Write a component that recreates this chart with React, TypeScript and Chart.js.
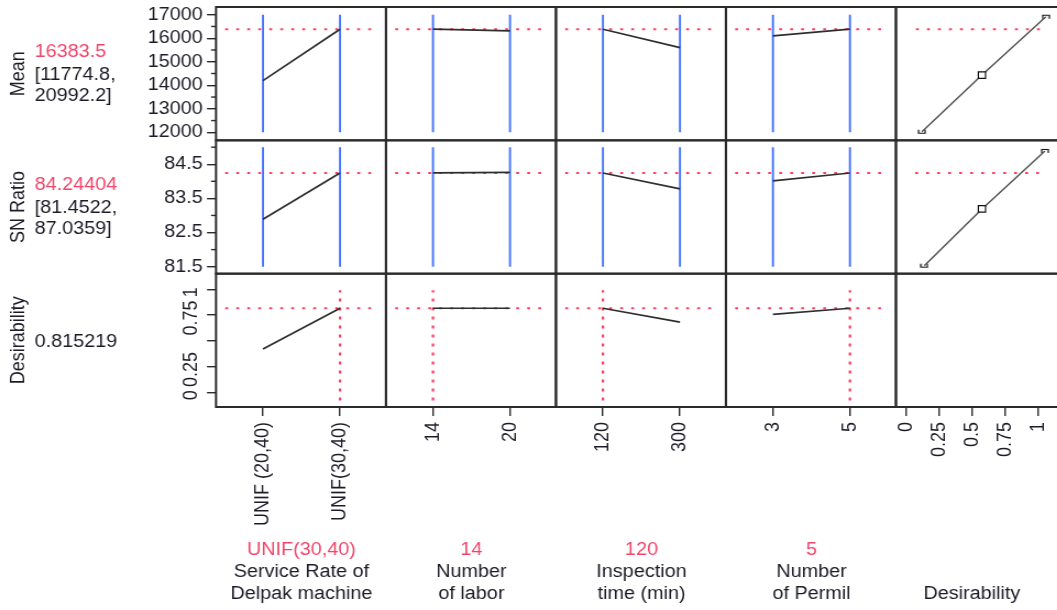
import React, { useEffect, useRef } from 'react';
import { Chart, registerables } from 'chart.js';

Chart.register(...registerables);

const FONT = "'Liberation Sans', Arial, Helvetica, sans-serif";
const TEXT = '#1c1c28';
const RED = '#ff3d5e';
const RED_TEXT = '#f2456a';
const BLUE = '#4474ff';
const LINE = '#2e2e2e';
const FRAME = '#2b2b2b';
const SX = 1.1; // horizontal stretch of the reference picture
const CW = 971;
const CH = 610;

// ---- factors (x axes) ----
const serviceLevels = ['UNIF (20,40)', 'UNIF(30,40)'];
const laborLevels = [14, 20];
const inspectionLevels = [120, 300];
const permilLevels = [3, 5];
const desirabilityTicks = [0, 0.25, 0.5, 0.75, 1];
const desirabilityTickLabels = ['0', '0.25', '', '0.75', '1'];

const factorTitles = [
  ['Service Rate of', 'Delpak machine'],
  ['Number', 'of labor'],
  ['Inspection', 'time (min)'],
  ['Number', 'of Permil'],
  ['Desirability'],
];
const factorCurrentText = ['UNIF(30,40)', '14', '120', '5', ''];
const currentLevelIndex = [1, 0, 0, 1];

// ---- responses (y axes) ----
const responseNames = ['Mean', 'SN Ratio', 'Desirability'];
const currentMean = 16383.5;
const meanCI = [11774.8, 20992.2];
const currentSN = 84.24404;
const snCI = [81.4522, 87.0359];
const currentDesirability = 0.815219;

const meanTicks = [12000, 13000, 14000, 15000, 16000, 17000];
const meanMinorTicks = [12500, 13500, 14500, 15500, 16500];
const snTicks = [81.5, 82.5, 83.5, 84.5];
const snMinorTicks = [82, 83, 84, 85];

// confidence bars, clipped to the shown tick range
const meanBarRange = [12000, 17000];
const snBarRange = [81.5, 85];

// ---- profile traces (value at each factor level) ----
const meanService = [14200, 16383.5];
const meanLabor = [16383.5, 16315];
const meanInspection = [16383.5, 15600];
const meanPermil = [16100, 16383.5];

const snService = [82.89, 84.24404];
const snLabor = [84.24404, 84.26];
const snInspection = [84.24404, 83.78];
const snPermil = [84.01, 84.24404];

const desService = [0.42, 0.815219];
const desLabor = [0.815219, 0.815219];
const desInspection = [0.815219, 0.68];
const desPermil = [0.755, 0.815219];

// ---- desirability functions ----
const meanDesX = [0.121, 0.576, 1.06];
const meanDesY = [12025, 14434, 16915];
const snDesX = [0.139, 0.576, 1.053];
const snDesY = [81.53, 83.19, 84.89];

const xIds = ['xService', 'xLabor', 'xInspection', 'xPermil', 'xDes'];
const yIds = ['yMean', 'ySN', 'yDes'];

const factorX: number[][] = [serviceLevels.map((_, i) => i), laborLevels, inspectionLevels, permilLevels];
const meanTraces = [meanService, meanLabor, meanInspection, meanPermil];
const snTraces = [snService, snLabor, snInspection, snPermil];
const desTraces = [desService, desLabor, desInspection, desPermil];

function makeBracket(up: boolean) {
  const c = document.createElement('canvas');
  c.width = 8;
  c.height = 6;
  const g = c.getContext('2d')!;
  g.strokeStyle = '#111';
  g.lineWidth = 1.2;
  g.beginPath();
  if (up) {
    g.moveTo(1, 5); g.lineTo(1, 1.5); g.lineTo(7, 1.5); g.lineTo(7, 5);
  } else {
    g.moveTo(1, 1); g.lineTo(1, 4.5); g.lineTo(7, 4.5); g.lineTo(7, 1);
  }
  g.stroke();
  return c;
}

function line(xAxisID: string, yAxisID: string, data: { x: number; y: number }[], extra: any) {
  return {
    type: 'line',
    xAxisID,
    yAxisID,
    data,
    pointRadius: 0,
    fill: false,
    tension: 0,
    ...extra,
  };
}

const hDot = { borderColor: RED, borderDash: [2.6, 7.4], borderWidth: 2, order: 3 };
const vDot = { borderColor: RED, borderDash: [3, 6], borderWidth: 2.2, order: 3 };

function buildDatasets() {
  const out: any[] = [];
  const rows = [
    { y: 'yMean', traces: meanTraces, current: currentMean, bar: meanBarRange },
    { y: 'ySN', traces: snTraces, current: currentSN, bar: snBarRange },
    { y: 'yDes', traces: desTraces, current: currentDesirability, bar: null as number[] | null },
  ];
  factorX.forEach((xs, c) => {
    const xId = xIds[c];
    const lo = xs[0];
    const hi = xs[xs.length - 1];
    const span = hi - lo;
    const cur = xs[currentLevelIndex[c]];
    rows.forEach((r) => {
      out.push(line(xId, r.y, [{ x: lo - 0.49 * span, y: r.current }, { x: hi + 0.41 * span, y: r.current }], hDot));
      if (r.bar) {
        xs.forEach((xv) =>
          out.push(
            line(xId, r.y, [{ x: xv, y: r.bar![0] }, { x: xv, y: r.bar![1] }], {
              borderColor: BLUE, borderWidth: 1.9, order: 2,
            })
          )
        );
      } else {
        out.push(line(xId, r.y, [{ x: cur, y: -0.08 }, { x: cur, y: 0.99 }], vDot));
      }
      out.push(
        line(xId, r.y, xs.map((xv, i) => ({ x: xv, y: r.traces[c][i] })), {
          borderColor: LINE, borderWidth: 1.7, order: 1,
        })
      );
    });
  });
  const up = makeBracket(true);
  const down = makeBracket(false);
  out.push(line('xDes', 'yMean', [{ x: 0.076, y: currentMean }, { x: 1.038, y: currentMean }], hDot));
  out.push(line('xDes', 'ySN', [{ x: 0.07, y: currentSN }, { x: 1.03, y: currentSN }], hDot));
  const fnStyle = {
    borderColor: '#555', borderWidth: 1.5, order: 1,
    pointStyle: [down, 'rect', up], pointRadius: [4, 4.6, 4],
    pointBackgroundColor: '#fff', pointBorderColor: '#111', pointBorderWidth: 1.2,
  };
  out.push(line('xDes', 'yMean', meanDesX.map((x, i) => ({ x, y: meanDesY[i] })), fnStyle));
  out.push(line('xDes', 'ySN', snDesX.map((x, i) => ({ x, y: snDesY[i] })), fnStyle));
  return out;
}

function padRange(lo: number, hi: number) {
  const s = hi - lo;
  return [lo - 0.61 * s, hi + 0.597 * s];
}

const tickFont = { family: FONT, size: 18 };
const gridOpts = (len: number) => ({
  display: true, drawOnChartArea: false, drawTicks: true, tickLength: len,
  color: FRAME, lineWidth: 1.4,
});

function noPad(axis: any) {
  axis.paddingLeft = 0;
  axis.paddingRight = 0;
  axis.paddingTop = 0;
  axis.paddingBottom = 0;
}

function buildScales() {
  const scales: any = {};
  const xTicks = [...factorX, desirabilityTicks];
  const xRanges = [
    ...factorX.map((xs) => padRange(xs[0], xs[xs.length - 1])),
    [-0.0758, 1.212],
  ];
  xIds.forEach((id, i) => {
    scales[id] = {
      type: 'linear', position: 'bottom', stack: 'cols', stackWeight: 1, weight: i,
      min: xRanges[i][0], max: xRanges[i][1], bounds: 'data',
      afterBuildTicks: (axis: any) => { axis.ticks = xTicks[i].map((v) => ({ value: v })); },
      afterFit: (axis: any) => { axis.height = 203; noPad(axis); },
      grid: gridOpts(9),
      border: { display: false },
      ticks: {
        autoSkip: false, minRotation: 90, maxRotation: 90, padding: 6,
        font: tickFont, color: TEXT,
        callback: (v: number, idx: number) => (i === 0 ? serviceLevels[idx] : String(v)),
      },
    };
  });
  const yTicks = [meanTicks, snTicks, desirabilityTicks];
  const yRanges = [[11660, 17327], [81.295, 85.2], [-0.143, 1.151]];
  yIds.forEach((id, j) => {
    scales[id] = {
      type: 'linear', position: 'left', stack: 'rows', stackWeight: 1, weight: 3 - j,
      min: yRanges[j][0], max: yRanges[j][1], bounds: 'data',
      afterBuildTicks: (axis: any) => { axis.ticks = yTicks[j].map((v) => ({ value: v })); },
      afterFit: (axis: any) => { axis.width = 66.36; noPad(axis); },
      grid: gridOpts(8.2),
      border: { display: false },
      ticks: {
        autoSkip: false, padding: 3.9, font: tickFont, color: TEXT,
        callback: (v: number) => (j === 2 ? '' : String(v)),
      },
    };
  });
  return scales;
}

const profilerPlugin = {
  id: 'profilerDecor',
  afterDatasetsDraw(chart: any) {
    const { ctx, scales } = chart;
    ctx.save();
    ctx.strokeStyle = FRAME;
    ctx.lineWidth = 2;
    xIds.forEach((xi) => {
      yIds.forEach((yi) => {
        const xs = scales[xi];
        const ys = scales[yi];
        ctx.strokeRect(xs.left, ys.top, xs.right - xs.left, ys.bottom - ys.top);
      });
    });
    ctx.restore();
  },
  afterDraw(chart: any) {
    const { ctx, scales } = chart;
    ctx.save();
    // minor ticks
    ctx.strokeStyle = FRAME;
    ctx.lineWidth = 1.4;
    const minor = (s: any, vals: number[]) => {
      vals.forEach((v) => {
        const y = s.getPixelForValue(v);
        ctx.beginPath();
        ctx.moveTo(s.right - 4.5, y);
        ctx.lineTo(s.right, y);
        ctx.stroke();
      });
    };
    minor(scales.yMean, meanMinorTicks);
    minor(scales.ySN, snMinorTicks);

    ctx.font = `18px ${FONT}`;
    // rotated desirability tick labels
    const yd = scales.yDes;
    ctx.fillStyle = TEXT;
    desirabilityTicks.forEach((v, k) => {
      const lbl = desirabilityTickLabels[k];
      if (!lbl) return;
      ctx.save();
      ctx.translate(179, yd.getPixelForValue(v) + 3);
      ctx.rotate(-Math.PI / 2);
      ctx.textAlign = 'center';
      ctx.textBaseline = 'alphabetic';
      ctx.fillText(lbl, 0, 0);
      ctx.restore();
    });

    // row labels
    const rowValues: [string, string[], boolean][] = [
      [String(currentMean), [`[${meanCI[0]},`, `${meanCI[1]}]`], true],
      [String(currentSN), [`[${snCI[0]},`, `${snCI[1]}]`], true],
      [String(currentDesirability), [], false],
    ];
    yIds.forEach((id, j) => {
      const s = scales[id];
      const yc = (s.top + s.bottom) / 2;
      ctx.save();
      ctx.translate(17.5, yc);
      ctx.rotate(-Math.PI / 2);
      ctx.textAlign = 'center';
      ctx.textBaseline = 'middle';
      ctx.fillStyle = TEXT;
      ctx.fillText(responseNames[j], 0, 0);
      ctx.restore();
      ctx.textAlign = 'left';
      ctx.textBaseline = 'middle';
      const [cur, ci, red] = rowValues[j];
      if (ci.length) {
        ctx.fillStyle = red ? RED_TEXT : TEXT;
        ctx.fillText(cur, 31.4, yc - 21.5);
        ctx.fillStyle = TEXT;
        ctx.fillText(ci[0], 31.4, yc + 1);
        ctx.fillText(ci[1], 31.4, yc + 22);
      } else {
        ctx.fillStyle = TEXT;
        ctx.fillText(cur, 31.4, yc + 1.4);
      }
    });

    // factor titles
    ctx.textAlign = 'center';
    ctx.textBaseline = 'middle';
    xIds.forEach((id, i) => {
      const s = scales[id];
      const t = s.ticks;
      const xc = (s.getPixelForValue(t[0].value) + s.getPixelForValue(t[t.length - 1].value)) / 2;
      if (factorCurrentText[i]) {
        ctx.fillStyle = RED_TEXT;
        ctx.fillText(factorCurrentText[i], xc, 550);
      }
      ctx.fillStyle = TEXT;
      const names = factorTitles[i];
      names.forEach((n, k) => {
        ctx.fillText(n, xc, 594.3 - (names.length - 1 - k) * 22);
      });
    });
    ctx.restore();
  },
};

export default function App() {
  const ref = useRef<HTMLCanvasElement>(null);
  useEffect(() => {
    if (!ref.current) return;
    const chart = new Chart(ref.current, {
      type: 'line',
      data: { datasets: buildDatasets() },
      options: {
        animation: false,
        responsive: false,
        events: [],
        layout: { autoPadding: false, padding: { left: 130, top: 7, right: 2, bottom: 0 } },
        plugins: { legend: { display: false }, tooltip: { enabled: false } },
        scales: buildScales(),
      } as any,
      plugins: [profilerPlugin],
    } as any);
    return () => chart.destroy();
  }, []);
  return (
    <div style={{ position: 'fixed', left: 0, top: 0, width: 1057, height: CH, overflow: 'hidden', background: '#fff' }}>
      <div style={{ width: CW, height: CH, transform: `scaleX(${SX})`, transformOrigin: '0 0' }}>
        <canvas ref={ref} width={CW} height={CH} style={{ width: CW, height: CH }} />
      </div>
    </div>
  );
}
